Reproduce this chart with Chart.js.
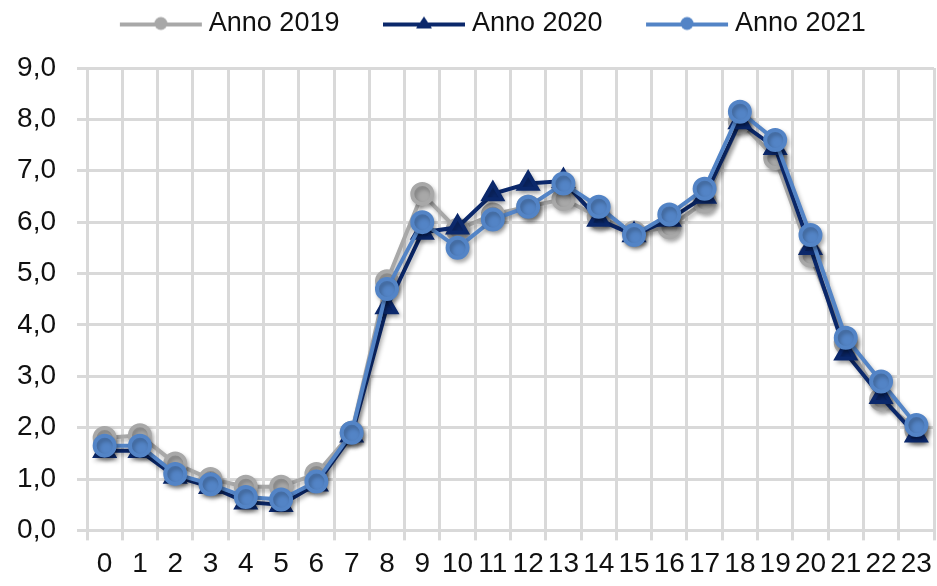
<!DOCTYPE html>
<html><head><meta charset="utf-8">
<script src="https://cdn.jsdelivr.net/npm/chart.js@4.4.0/dist/chart.umd.min.js"></script>
<style>html,body{margin:0;padding:0;background:#fff;}#wrap{width:937px;height:586px;}</style>
</head><body><div id="wrap"><canvas id="c" width="937" height="586"></canvas></div>
<script>
const hours = ['0','1','2','3','4','5','6','7','8','9','10','11','12','13','14','15','16','17','18','19','20','21','22','23'];
const anno2019 = [1.8, 1.85, 1.3, 1.0, 0.85, 0.85, 1.1, 1.9, 4.85, 6.55, 5.85, 6.15, 6.3, 6.45, 6.1, 5.8, 5.9, 6.4, 7.95, 7.25, 5.35, 3.65, 2.55, 1.95];
const anno2020 = [1.55, 1.55, 1.05, 0.85, 0.55, 0.5, 0.9, 1.85, 4.35, 5.8, 5.9, 6.55, 6.75, 6.8, 6.05, 5.75, 6.05, 6.5, 7.95, 7.45, 5.5, 3.45, 2.6, 1.85];
const anno2021 = [1.65, 1.65, 1.1, 0.9, 0.65, 0.6, 0.95, 1.9, 4.7, 6.0, 5.5, 6.05, 6.3, 6.75, 6.3, 5.75, 6.15, 6.65, 8.15, 7.6, 5.75, 3.75, 2.9, 2.05];
const yTickLabels = ['0,0','1,0','2,0','3,0','4,0','5,0','6,0','7,0','8,0','9,0'];
const seriesNames = ['Anno 2019','Anno 2020','Anno 2021'];

const C2019 = '#a8a8a8', C2020 = '#0b286b', C2021 = '#5384c6';
const GRID = '#d9d9d9';

function legendIcon(color, style) {
  const cv = document.createElement('canvas');
  cv.width = 126; cv.height = 20;
  const g = cv.getContext('2d');
  g.strokeStyle = color; g.fillStyle = color; g.lineWidth = 4;
  g.beginPath(); g.moveTo(42, 11); g.lineTo(124, 11); g.stroke();
  const cx = 83;
  g.beginPath();
  if (style === 'triangle') { g.moveTo(cx, 3); g.lineTo(cx + 8, 15); g.lineTo(cx - 8, 15); g.closePath(); }
  else { g.arc(cx, 10, 6.5, 0, Math.PI * 2); }
  g.fill();
  return cv;
}
const icons = [legendIcon(C2019, 'circle'), legendIcon(C2020, 'triangle'), legendIcon(C2021, 'circle')];

const shadowPlugin = {
  id: 'shadow',
  beforeDatasetDraw(chart) {
    const ctx = chart.ctx; ctx.save();
    ctx.shadowColor = 'rgba(0,0,0,0.28)'; ctx.shadowBlur = 4; ctx.shadowOffsetX = 2; ctx.shadowOffsetY = 3;
  },
  afterDatasetDraw(chart) { chart.ctx.restore(); }
};

const legendSpacePlugin = {
  id: 'legendSpace',
  beforeLayout(chart) {
    const lg = chart.legend;
    if (lg && !lg._patched) {
      const f = lg.fit.bind(lg);
      lg.fit = function () { f(); this.height += 21; };
      lg._patched = true;
    }
  }
};

const mk = (label, data, color, style, order) => ({
  label, data, borderColor: color, backgroundColor: color, pointBackgroundColor: color, pointBorderColor: color,
  borderWidth: 4, pointRadius: style === 'triangle' ? 10.5 : 10, pointHoverRadius: 10, pointStyle: style,
  tension: 0, fill: false, order
});

new Chart(document.getElementById('c'), {
  type: 'line',
  data: {
    labels: hours,
    datasets: [
      mk(seriesNames[0], anno2019, C2019, 'circle', 2),
      mk(seriesNames[1], anno2020, C2020, 'triangle', 1),
      mk(seriesNames[2], anno2021, C2021, 'circle', 0)
    ]
  },
  plugins: [shadowPlugin, legendSpacePlugin],
  options: {
    responsive: false, animation: false, devicePixelRatio: 1,
    layout: { autoPadding: false, padding: { left: 18, right: 3, top: 0, bottom: -2 } },
    plugins: {
      tooltip: { enabled: false },
      legend: {
        position: 'top',
        labels: {
          usePointStyle: true, pointStyleWidth: 109, padding: 10,
          color: '#111', font: { family: "'Liberation Sans', Arial, sans-serif", size: 27 },
          generateLabels(chart) {
            const items = Chart.defaults.plugins.legend.labels.generateLabels(chart);
            items.forEach(it => { it.pointStyle = icons[it.datasetIndex]; });
            return items;
          },
          sort: (a, b) => a.datasetIndex - b.datasetIndex
        }
      }
    },
    scales: {
      x: {
        offset: true,
        afterFit(s) { s.paddingLeft = 0; s.paddingRight = 0; },
        grid: { offset: true, color: GRID, lineWidth: 3, tickLength: 10, tickColor: GRID },
        border: { color: GRID, width: 3 },
        ticks: { color: '#111', padding: 7, maxRotation: 0, autoSkip: false,
          font: { family: "'Liberation Sans', Arial, sans-serif", size: 28 } }
      },
      y: {
        min: 0, max: 9,
        afterFit(s) { s.width = 69; },
        grid: { color: GRID, lineWidth: 3, tickLength: 10, tickColor: GRID },
        border: { color: GRID, width: 3 },
        ticks: { stepSize: 1, color: '#111', padding: 21,
          font: { family: "'Liberation Sans', Arial, sans-serif", size: 28, lineHeight: 1.5 },
          callback: (v) => yTickLabels[Math.round(v)] }
      }
    }
  }
});
</script></body></html>
